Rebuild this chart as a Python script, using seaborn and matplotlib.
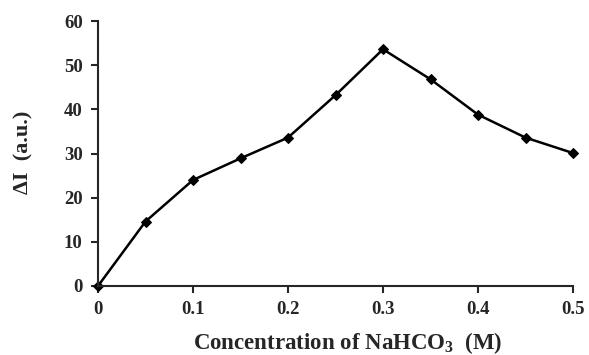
import matplotlib
matplotlib.use("Agg")
import matplotlib.pyplot as plt
import seaborn as sns
import pandas as pd

conc = [0.0, 0.05, 0.10, 0.15, 0.20, 0.25, 0.30, 0.35, 0.40, 0.45, 0.50]
delta_i = [0.0, 14.6, 24.0, 28.9, 33.6, 43.2, 53.6, 46.8, 38.8, 33.6, 30.1]
x_ticks = [0, 0.1, 0.2, 0.3, 0.4, 0.5]
x_tick_labels = ["0", "0.1", "0.2", "0.3", "0.4", "0.5"]
y_ticks = [0, 10, 20, 30, 40, 50, 60]

sns.set_style("ticks")
plt.rcParams["font.family"] = ["Liberation Serif", "DejaVu Serif"]
plt.rcParams["font.weight"] = "bold"
plt.rcParams["mathtext.fontset"] = "custom"
plt.rcParams["mathtext.rm"] = "Liberation Serif:bold"
plt.rcParams["mathtext.bf"] = "Liberation Serif:bold"
plt.rcParams["mathtext.it"] = "Liberation Serif:bold"

df = pd.DataFrame({"conc": conc, "dI": delta_i})

fig = plt.figure(figsize=(5.89, 3.55), dpi=100)
ax = fig.add_axes([98/589, 1-286/355, (573-98)/589, (286-21)/355])
sns.lineplot(data=df, x="conc", y="dI", ax=ax, color="black", linewidth=1.8,
             marker="D", markersize=5, markeredgecolor="black", clip_on=False)

ax.set_xlim(0, 0.5)
ax.set_ylim(0, 60)
ax.set_xticks(x_ticks)
ax.set_xticklabels(x_tick_labels)
ax.set_yticks(y_ticks)
sns.despine(ax=ax)
for s in ["left", "bottom"]:
    ax.spines[s].set_linewidth(1.5)
ax.tick_params(axis="both", direction="out", length=5, width=1.5, labelsize=13.5, pad=6)
for lab in ax.get_xticklabels() + ax.get_yticklabels():
    lab.set_fontweight("bold")

ax.set_xlabel("Concentration of NaHCO$_{\\mathbf{3}}$  (M)", fontsize=16.5, fontweight="bold")
ax.set_ylabel("ΔI  (a.u.)", fontsize=16, fontweight="bold")
ax.xaxis.set_label_coords(0.526, -0.215)
ax.xaxis.label.set_verticalalignment("center")
ax.yaxis.set_label_coords(-0.156, 0.506)
ax.yaxis.label.set_verticalalignment("center")

fig.savefig("out.png", dpi=100)
